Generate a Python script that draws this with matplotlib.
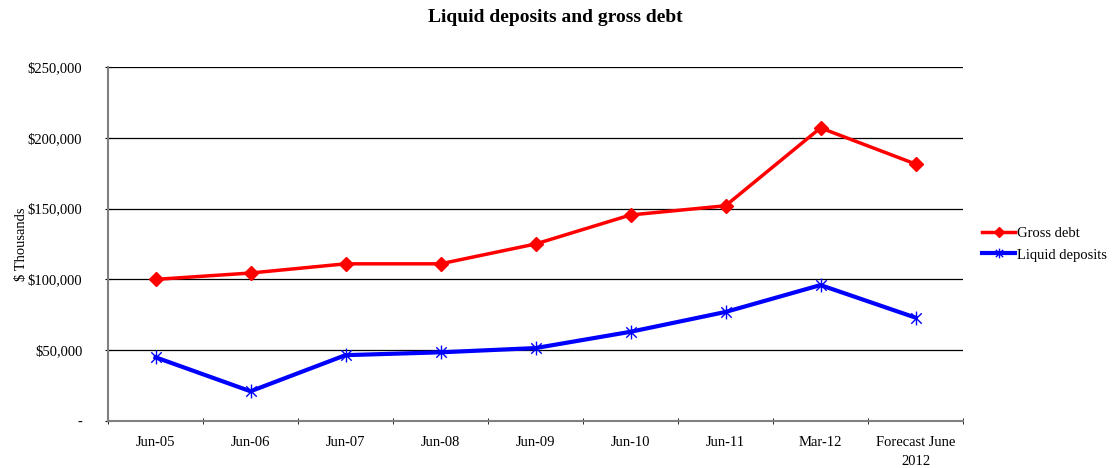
import matplotlib
matplotlib.use("Agg")
import matplotlib.pyplot as plt
from matplotlib.ticker import FuncFormatter, FixedLocator
from matplotlib.path import Path
import numpy as np

categories = ["Jun-05", "Jun-06", "Jun-07", "Jun-08", "Jun-09", "Jun-10", "Jun-11", "Mar-12", "Forecast June\n2012"]
gross_debt = [100000, 104500, 111000, 111000, 125000, 145500, 152000, 207000, 181500]
liquid_deposits = [45000, 21000, 46500, 48500, 51500, 63000, 77000, 96000, 73000]

plt.rcParams['font.family'] = ['Liberation Serif', 'DejaVu Serif']

# asterisk marker: vertical bar plus an X
ast = Path([(0, -1), (0, 1), (-0.75, -0.75), (0.75, 0.75), (-0.75, 0.75), (0.75, -0.75)],
           [Path.MOVETO, Path.LINETO, Path.MOVETO, Path.LINETO, Path.MOVETO, Path.LINETO])

fig = plt.figure(figsize=(11.14, 4.68), dpi=100)
ax = fig.add_axes([108/1114, 1-421/468, (963-108)/1114, (421-67)/468])

x = np.arange(len(categories))
ax.plot(x, gross_debt, color='#ff0000', lw=2.5, marker='D', ms=7, mfc='#ff0000', mec='#ff0000', label='Gross debt', zorder=3)
ax.plot(x, liquid_deposits, color='#0000ff', lw=3, marker=ast, ms=10, mew=1.0, label='Liquid deposits', zorder=3)

ax.set_xlim(-0.5, len(categories) - 0.5)
ax.set_ylim(0, 250000)
ax.set_yticks(np.arange(0, 250001, 50000))
ax.yaxis.set_major_formatter(FuncFormatter(lambda v, p: '-' if v == 0 else '${:,.0f}'.format(v)))
ax.yaxis.grid(True, color='black', lw=0.9)
ax.set_axisbelow(True)

ax.set_xticks(x)
ax.set_xticklabels(categories, fontsize=10.5, linespacing=1.6)
ax.tick_params(axis='x', which='major', length=0, pad=11)
ax.xaxis.set_minor_locator(FixedLocator(np.arange(-0.5, len(categories), 1)))
ax.tick_params(axis='x', which='minor', length=4, color='black', direction='inout')
ax.tick_params(axis='y', labelsize=10.5, length=5, direction='inout', color='black', pad=16)

for s in ['top', 'right']:
    ax.spines[s].set_visible(False)
for s in ['left', 'bottom']:
    ax.spines[s].set_color('#808080')
    ax.spines[s].set_linewidth(1.5)

ax.set_ylabel('$ Thousands', fontsize=10.5, labelpad=0)
fig.text(555/1114, 1-18/468, 'Liquid deposits and gross debt', ha='center', va='center', fontsize=14, fontweight='bold')

handles, labels = ax.get_legend_handles_labels()
fig.legend(handles, labels, loc='center left', bbox_to_anchor=(976/1114, 1-244/468), frameon=False,
           fontsize=10.5, handlelength=2.3, handletextpad=0.1, labelspacing=0.6, borderaxespad=0,
           markerscale=0.7)

fig.savefig('out.png', dpi=100)
